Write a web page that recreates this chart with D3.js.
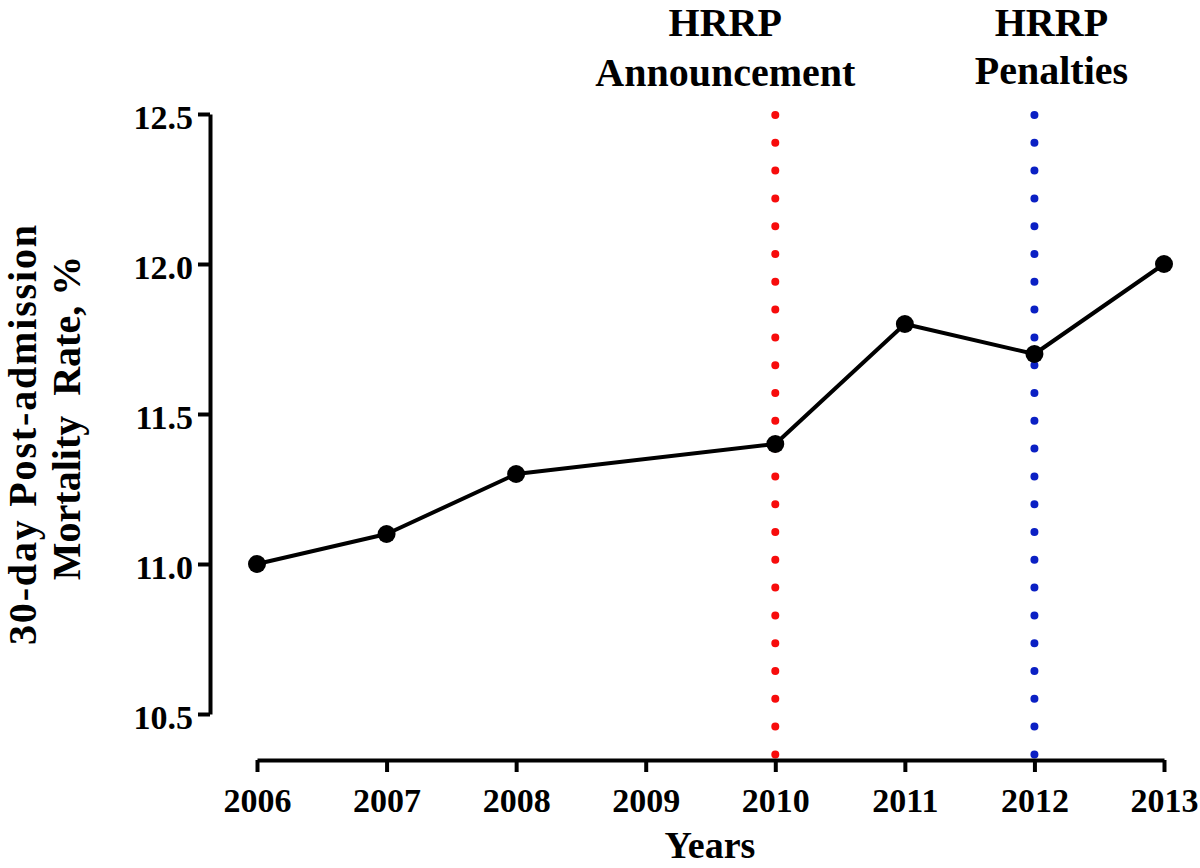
<!DOCTYPE html>
<html lang="en">
<head>
  <meta charset="UTF-8">
  <title>30-day Post-admission Mortality Rate</title>
  <script src="https://d3js.org/d3.v7.min.js"></script>
  <style type="text/css">
    body { margin: 0; background: #fff; }
    .axis path,
    .axis line {
      fill: none;
      stroke: black;
      stroke-width: 4;
    }
    .axis text {
      font-family: "Liberation Serif", "Times New Roman", serif;
      font-size: 34px;
      font-weight: bold;
      fill: black;
    }
    .label {
      font-family: "Liberation Serif", "Times New Roman", serif;
      font-weight: bold;
      fill: black;
    }
  </style>
</head>
<body>
<script type="text/javascript">
  // data
  var years = [2006, 2007, 2008, 2010, 2011, 2012, 2013];
  var mortality = [11.0, 11.1, 11.3, 11.4, 11.8, 11.7, 12.0];
  var xTicks = [2006, 2007, 2008, 2009, 2010, 2011, 2012, 2013];
  var yTicks = [10.5, 11.0, 11.5, 12.0, 12.5];
  var eventYears = [2010, 2012];
  var eventLabels = [["HRRP", "Announcement"], ["HRRP", "Penalties"]];

  var w = 1200;
  var h = 868;
  var xAxisY = 760;   // x axis sits below the y range, GraphPad style
  var yAxisX = 210;

  var dataset = years.map(function (y, i) { return [y, mortality[i]]; });

  var svg = d3.select("body")
    .append("svg")
    .attr("width", w)
    .attr("height", h);

  var xScale = d3.scaleLinear()
    .domain([2006, 2013])
    .range([257, 1164]);

  var yScale = d3.scaleLinear()
    .domain([10.5, 12.5])
    .range([714, 114]);

  // dotted event lines (drawn first, under the data)
  var eventColors = ["#f70c0c", "#0b20c4"];
  svg.selectAll("line.event")
    .data(eventYears)
    .enter()
    .append("line")
    .attr("class", "event")
    .attr("x1", function (d) { return xScale(d); })
    .attr("x2", function (d) { return xScale(d); })
    .attr("y1", yScale(12.5) + 1)
    .attr("y2", xAxisY - 2)
    .attr("stroke", function (d, i) { return eventColors[i]; })
    .attr("stroke-width", 8)
    .attr("stroke-linecap", "round")
    .attr("stroke-dasharray", "0 27.8");

  // event labels
  var labelDx = [-50, 17];
  var labelY = [[36, 86], [36, 84]];
  eventLabels.forEach(function (lines, i) {
    lines.forEach(function (t, j) {
      svg.append("text")
        .attr("class", "label")
        .attr("text-anchor", "middle")
        .attr("x", xScale(eventYears[i]) + labelDx[i])
        .attr("y", labelY[i][j])
        .attr("font-size", "40px")
        .text(t);
    });
  });

  var xAxis = d3.axisBottom(xScale)
    .tickValues(xTicks)
    .tickFormat(d3.format("d"))
    .tickSize(12)
    .tickSizeOuter(0)
    .tickPadding(16);

  var yAxis = d3.axisLeft(yScale)
    .tickValues(yTicks)
    .tickFormat(d3.format(".1f"))
    .tickSize(12)
    .tickSizeOuter(0)
    .tickPadding(5);

  svg.append("g")
    .attr("class", "axis")
    .attr("transform", "translate(0," + xAxisY + ")")
    .call(xAxis);

  svg.append("g")
    .attr("class", "axis")
    .attr("transform", "translate(" + yAxisX + ",0)")
    .call(yAxis);

  // nudge y tick labels a bit lower, like the original
  svg.selectAll(".axis text").filter(function () {
    return d3.select(this).attr("dy") === "0.32em";
  }).attr("dy", "0.42em");

  // series line + points
  var line = d3.line()
    .x(function (d) { return xScale(d[0]); })
    .y(function (d) { return yScale(d[1]); });

  svg.append("path")
    .datum(dataset)
    .attr("fill", "none")
    .attr("stroke", "black")
    .attr("stroke-width", 4)
    .attr("stroke-linejoin", "round")
    .attr("d", line);

  svg.selectAll("circle")
    .data(dataset)
    .enter()
    .append("circle")
    .attr("fill", "black")
    .attr("cx", function (d) { return xScale(d[0]); })
    .attr("cy", function (d) { return yScale(d[1]); })
    .attr("r", 9);

  // axis titles
  svg.append("text")
    .attr("class", "label")
    .attr("text-anchor", "middle")
    .attr("x", 710)
    .attr("y", 858)
    .attr("font-size", "38px")
    .text("Years");

  svg.append("text")
    .attr("class", "label")
    .attr("text-anchor", "middle")
    .attr("transform", "translate(36,435) rotate(-90)")
    .attr("font-size", "40px")
    .attr("textLength", 420)
    .attr("lengthAdjust", "spacing")
    .text("30-day Post-admission");

  svg.append("text")
    .attr("class", "label")
    .attr("text-anchor", "middle")
    .attr("transform", "translate(80,418) rotate(-90)")
    .attr("font-size", "40px")
    .style("white-space", "pre")
    .text("Mortality  Rate, %");
</script>
</body>
</html>
